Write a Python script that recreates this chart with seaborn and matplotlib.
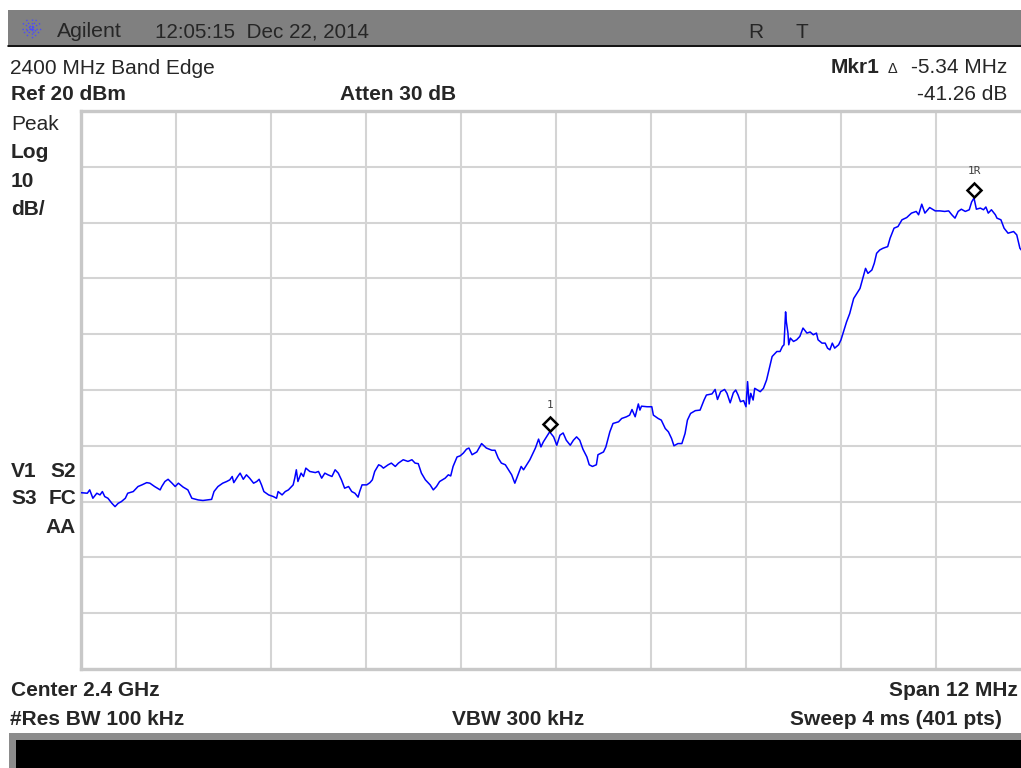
import numpy as np
import matplotlib
matplotlib.use("Agg")
import matplotlib.pyplot as plt
import seaborn as sns
import pandas as pd
from matplotlib.patches import Rectangle
from matplotlib.lines import Line2D
from matplotlib.transforms import offset_copy

# trace (MHz, dBm)
freq = [
    2394.00, 2394.08, 2394.11, 2394.15, 2394.20, 2394.24, 2394.27, 2394.30, 2394.34, 2394.39,
    2394.43, 2394.47, 2394.51, 2394.56, 2394.59, 2394.66, 2394.72, 2394.77, 2394.83, 2394.87,
    2394.93, 2395.00, 2395.02, 2395.06, 2395.10, 2395.15, 2395.19, 2395.23, 2395.29, 2395.35,
    2395.40, 2395.48, 2395.54, 2395.60, 2395.65, 2395.68, 2395.73, 2395.79, 2395.84, 2395.88,
    2395.91, 2395.93, 2395.98, 2396.01, 2396.05, 2396.09, 2396.13,
    2396.18, 2396.22, 2396.25, 2396.28, 2396.31, 2396.37, 2396.43, 2396.47, 2396.49, 2396.54,
    2396.58, 2396.62, 2396.68, 2396.70, 2396.72, 2396.74, 2396.78, 2396.81, 2396.84, 2396.89,
    2396.96, 2397.00, 2397.04, 2397.08, 2397.12, 2397.17, 2397.21, 2397.25, 2397.29, 2397.33,
    2397.38, 2397.42, 2397.46, 2397.50, 2397.52, 2397.55, 2397.61, 2397.65, 2397.68, 2397.71,
    2397.76, 2397.79, 2397.82, 2397.88, 2397.92, 2397.97, 2398.01, 2398.07, 2398.13, 2398.18,
    2398.22, 2398.26,
    2398.30, 2398.35, 2398.41, 2398.45, 2398.49, 2398.53, 2398.60, 2398.64, 2398.67, 2398.70,
    2398.75, 2398.79, 2398.83, 2398.87, 2398.90, 2398.94, 2399.00, 2399.06, 2399.12, 2399.19,
    2399.23, 2399.27, 2399.31, 2399.36, 2399.40, 2399.44, 2399.48, 2399.52, 2399.56, 2399.59,
    2399.63, 2399.67, 2399.71, 2399.74, 2399.78, 2399.81, 2399.84, 2399.88, 2399.92, 2399.97,
    2400.01, 2400.05, 2400.09, 2400.13, 2400.18, 2400.22, 2400.26, 2400.30, 2400.34,
    2400.39, 2400.42, 2400.46, 2400.51, 2400.53, 2400.60, 2400.63, 2400.68, 2400.72, 2400.79,
    2400.83, 2400.89, 2400.93, 2400.96, 2401.00, 2401.04, 2401.06, 2401.08, 2401.15, 2401.21,
    2401.23, 2401.29, 2401.33, 2401.38, 2401.42, 2401.46, 2401.49, 2401.54, 2401.59, 2401.63,
    2401.66, 2401.70, 2401.76, 2401.82, 2401.87, 2401.90, 2401.97, 2402.01, 2402.04, 2402.08,
    2402.13, 2402.16, 2402.20, 2402.24, 2402.27, 2402.30, 2402.33, 2402.37, 2402.40, 2402.42,
    2402.44, 2402.46, 2402.49,
    2402.51, 2402.58, 2402.62, 2402.66, 2402.70, 2402.73, 2402.79, 2402.83, 2402.86, 2402.88,
    2402.90, 2402.91, 2402.93, 2402.94, 2402.96, 2403.00, 2403.04, 2403.08, 2403.12, 2403.17,
    2403.21, 2403.25, 2403.29, 2403.31, 2403.36, 2403.40, 2403.43, 2403.46, 2403.49, 2403.52,
    2403.57, 2403.60, 2403.63, 2403.67, 2403.71, 2403.76, 2403.80, 2403.84, 2403.88, 2403.91,
    2403.94, 2403.99, 2404.02, 2404.05, 2404.09, 2404.13, 2404.19, 2404.22, 2404.27,
    2404.32, 2404.37, 2404.43, 2404.49, 2404.55, 2404.58, 2404.62, 2404.66, 2404.72, 2404.79,
    2404.85, 2404.91, 2404.96, 2405.00, 2405.04, 2405.08, 2405.12, 2405.17, 2405.22, 2405.25,
    2405.28, 2405.31, 2405.36, 2405.40, 2405.43, 2405.46, 2405.50, 2405.55, 2405.57, 2405.62,
    2405.66, 2405.71, 2405.78, 2405.82, 2405.86, 2405.94, 2406.00,
]
level = [
    -48.4, -48.5, -47.9, -49.4, -48.5, -48.8, -48.2, -49.1, -49.4, -50.3,
    -50.9, -50.3, -50.0, -49.4, -48.5, -48.2, -47.3, -47.0, -46.6, -46.7,
    -47.3, -47.9, -47.3, -46.4, -46.0, -46.7, -47.3, -46.7, -47.4, -47.9,
    -49.4, -49.7, -49.8, -49.7, -49.6, -48.2, -47.3, -46.7, -46.4, -46.1,
    -45.5, -46.6, -45.5, -44.9, -46.0, -45.2, -45.8,
    -46.7, -46.4, -46.0, -47.0, -48.2, -48.8, -49.1, -49.4, -48.2, -48.8,
    -48.2, -47.9, -47.0, -45.8, -44.3, -46.4, -44.9, -45.5, -44.0, -44.6,
    -44.8, -44.6, -45.8, -44.9, -45.2, -45.5, -44.3, -44.9, -46.1, -47.6,
    -47.3, -48.2, -48.5, -49.2, -48.2, -47.0, -47.0, -46.6, -46.1, -44.6,
    -43.4, -43.6, -44.0, -43.4, -43.1, -43.7, -43.1, -42.5, -42.8, -42.5,
    -43.1, -43.2,
    -44.9, -46.1, -47.0, -47.9, -47.3, -46.4, -45.8, -45.2, -45.4, -43.7,
    -42.0, -41.8, -41.3, -40.6, -40.4, -41.6, -41.1, -39.6, -40.4, -40.8,
    -40.8, -42.2, -43.1, -43.4, -44.3, -45.2, -46.7, -45.2, -43.7, -44.3,
    -43.4, -42.5, -41.3, -40.4, -38.8, -40.2, -39.3, -38.4, -37.5, -38.4,
    -39.9, -38.1, -37.7, -39.0, -39.9, -39.0, -38.4, -39.0, -40.6,
    -42.0, -43.4, -43.7, -43.4, -41.6, -41.1, -40.2, -37.5, -36.0, -35.7,
    -35.1, -34.8, -34.5, -33.5, -34.8, -32.5, -33.6, -32.9, -33.0, -33.0,
    -34.5, -35.1, -35.4, -36.9, -37.5, -38.7, -40.0, -39.6, -39.6, -37.8,
    -35.4, -34.2, -33.7, -33.6, -31.8, -30.9, -30.7, -29.9, -31.7, -30.3,
    -29.9, -30.6, -32.3, -30.5, -30.0, -30.9, -32.1, -31.9, -33.0, -28.5,
    -32.5, -30.6, -31.8,
    -29.7, -30.3, -29.7, -28.2, -25.8, -24.0, -23.1, -23.1, -22.2, -21.9,
    -16.0, -17.8, -19.8, -21.9, -20.7, -21.3, -21.0, -20.4, -18.9, -19.8,
    -19.6, -20.1, -19.8, -21.0, -21.6, -21.6, -22.5, -22.8, -21.6, -22.5,
    -21.9, -21.0, -19.6, -17.8, -16.3, -13.6, -12.7, -11.8, -9.7, -8.2,
    -9.1, -8.5, -7.3, -5.5, -4.9, -4.6, -4.3, -2.8, -1.0,
    -0.7, 0.5, 0.9, 1.7, 2.0, 1.4, 3.3, 1.7, 2.7, 2.1,
    2.1, 2.0, 2.1, 1.4, 0.8, 2.0, 2.4, 2.0, 2.3, 3.7,
    4.4, 2.4, 2.6, 2.3, 2.8, 1.7, 2.3, 1.4, 0.8, 0.5,
    -1.0, -1.9, -1.6, -2.2, -4.6, -6.0, -7.0,
]

mkr_freq = [2399.92, 2405.28]
mkr_level = [-37.5, 4.4]
mkr_label = ["1", "1R"]

ref_level = 20
db_per_div = 10
center = 2400.0
span = 12.0

sns.set_style("white")
plt.rcParams['font.family'] = ['Liberation Sans', 'DejaVu Sans']

W, H = 1021, 768
fig = plt.figure(figsize=(W / 100, H / 100), dpi=100)
fig.patch.set_facecolor("white")

def fx(px):
    return px / W

def fy(py):
    return 1 - py / H

# plot area (right edge runs off the screenshot)
ax = fig.add_axes([fx(81), fy(669), 950 / W, 558 / H])
df = pd.DataFrame({"freq": freq, "level": level})
sns.lineplot(data=df, x="freq", y="level", ax=ax, color="#0000ff",
             linewidth=1.1, estimator=None, zorder=3)

ax.set_xlim(center - span / 2, center + span / 2)
ax.set_ylim(ref_level - 10 * db_per_div, ref_level)
ax.set_xticks(np.linspace(center - span / 2, center + span / 2, 11))
ax.set_yticks(np.arange(ref_level - 10 * db_per_div, ref_level + 1, db_per_div))
ax.grid(True, color="#d4d4d4", linewidth=1.5)
ax.tick_params(length=0, labelbottom=False, labelleft=False)
ax.set_xlabel("")
ax.set_ylabel("")
for s in ax.spines.values():
    s.set_color("#c8c8c8")
    s.set_linewidth(2.4)

# markers (diamond sits just above the trace point)
mtr = offset_copy(ax.transData, fig=fig, x=0, y=8, units="dots")
ax.plot(mkr_freq, mkr_level, ls="none", marker="D", ms=7, mfc="white",
        mec="black", mew=1.8, transform=mtr, zorder=5)
ltr = offset_copy(ax.transData, fig=fig, x=0, y=24, units="dots")
for f, l, t in zip(mkr_freq, mkr_level, mkr_label):
    ax.text(f, l, t, transform=ltr, ha="center", va="baseline", fontsize=8,
            family="DejaVu Sans Mono", color="#404040", zorder=5)

# top status bar
fig.add_artist(Rectangle((fx(8), fy(47)), fx(1021) - fx(8), 37 / H,
                         transform=fig.transFigure, facecolor="#808080",
                         edgecolor="none"))
fig.add_artist(Line2D([fx(8), fx(1021)], [fy(46), fy(46)], transform=fig.transFigure,
                      color="black", linewidth=1.2))
# agilent spark logo
cx, cy, r = 31.5, 28.5, 10
for a in np.deg2rad([0, 30, 60, 90, 120, 150]):
    fig.add_artist(Line2D([fx(cx - r * np.cos(a)), fx(cx + r * np.cos(a))],
                          [fy(cy - r * np.sin(a)), fy(cy + r * np.sin(a))],
                          transform=fig.transFigure, color="#4a4aff",
                          linewidth=1.0, linestyle=(0, (1, 1.5))))

# bottom black bar
fig.add_artist(Rectangle((fx(9), 0), fx(1021) - fx(9), 35 / H,
                         transform=fig.transFigure, facecolor="#8c8c8c",
                         edgecolor="none"))
fig.add_artist(Rectangle((fx(16), 0), fx(1021) - fx(16), 28 / H,
                         transform=fig.transFigure, facecolor="black",
                         edgecolor="none"))

def txt(x, y, s, bold=False, size=15, ha="left", **kw):
    fig.text(fx(x), fy(y), s, ha=ha, va="baseline", fontsize=size,
             fontweight="bold" if bold else "normal", **kw)

txt(57, 37, "Agilent", size=15.3)
txt(155, 37, "12:05:15  Dec 22, 2014", size=14.9)
txt(748, 38, "R", size=15)
txt(795, 38, "T", size=15)

txt(10, 74, "2400 MHz Band Edge")
txt(11, 100, "Ref 20 dBm", bold=True)
txt(340, 100, "Atten 30 dB", bold=True)
txt(879, 73, "Mkr1", bold=True, ha="right")
txt(892, 73, "\u0394", size=10.5, ha="center")
txt(1007, 73, "-5.34 MHz", ha="right")
txt(1007, 100, "-41.26 dB", ha="right")

txt(11, 130, "Peak")
txt(11, 158, "Log", bold=True)
txt(11, 187, "10", bold=True)
txt(11, 215, "dB/", bold=True)

txt(11, 477, "V1", bold=True)
txt(76, 477, "S2", bold=True, ha="right")
txt(11, 504, "S3", bold=True)
txt(76, 504, "FC", bold=True, ha="right")
txt(76, 533, "AA", bold=True, ha="right")

txt(11, 696, "Center 2.4 GHz", bold=True)
txt(1018, 696, "Span 12 MHz", bold=True, ha="right")
txt(10, 725, "#Res BW 100 kHz", bold=True)
txt(452, 725, "VBW 300 kHz", bold=True)
txt(1002, 725, "Sweep 4 ms (401 pts)", bold=True, ha="right")

fig.savefig("out.png", dpi=100)
